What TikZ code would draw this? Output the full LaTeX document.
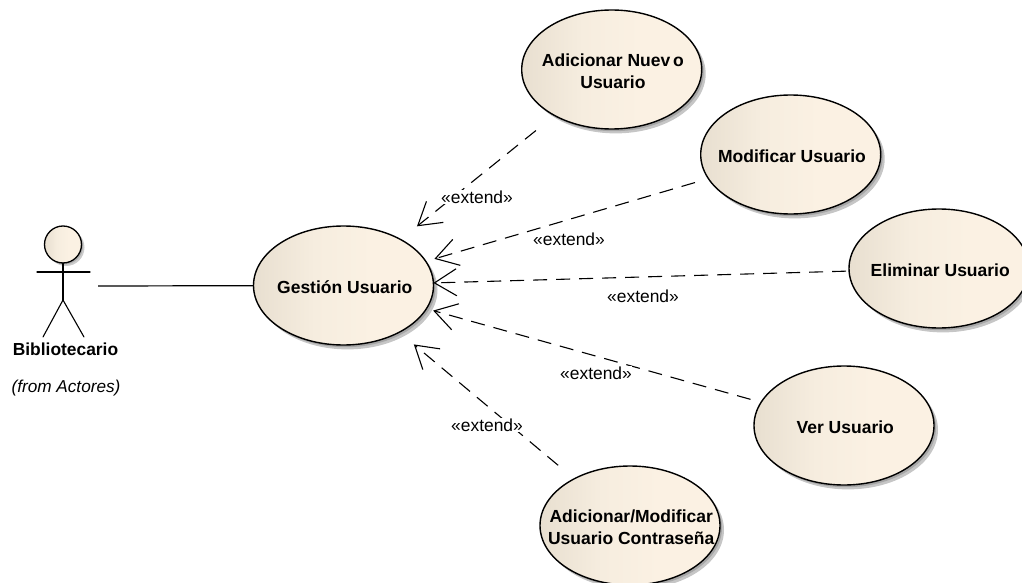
\documentclass[tikz,border=0pt]{standalone}
\usepackage{fontspec}
\setmainfont{Liberation Sans}
\usetikzlibrary{shapes.geometric,arrows.meta,shadows}
\definecolor{ucleft}{HTML}{E8DFD0}
\definecolor{ucmid}{HTML}{F6EDDF}
\definecolor{ucright}{HTML}{FBF1E3}
\pgfdeclarehorizontalshading{ucgrad}{100bp}{color(0bp)=(ucleft); color(25bp)=(ucleft); color(42bp)=(ucmid); color(58bp)=(ucright); color(100bp)=(ucright)}
\newcommand\uclabel[1]{\makebox[0pt]{\hspace{2.5pt}\smash{\raisebox{-7.5pt}{\begin{tabular}[c]{@{}c@{}}#1\end{tabular}}}}}
\tikzset{
  usecase/.style={ellipse,draw=black,line width=1.4pt,minimum width=180pt,minimum height=119pt,inner sep=0pt,outer sep=0pt,
    shade,shading=ucgrad,
    double copy shadow={shadow xshift=2pt,shadow yshift=-2.2pt,opacity=.45,fill=black!50,draw=none},
    font=\fontsize{17.5}{22}\selectfont\bfseries},
  dep/.style={line width=1.1pt,dash pattern=on 14pt off 9pt,-{Straight Barb[length=22pt,width=27pt,line width=1.1pt]}},
  stereo/.style={font=\fontsize{17.4}{20}\selectfont,fill=white,inner sep=0.5pt},
  limb/.style={line width=1.1pt,line cap=round},
  assoc/.style={line width=1.2pt},
  actorlabel/.style={font=\fontsize{17.4}{20}\selectfont\bfseries,inner sep=0pt},
  fromlabel/.style={font=\fontsize{17.2}{20}\selectfont\itshape,inner sep=0pt},
  head/.style={circle,draw=black,line width=1.3pt,minimum size=37pt,inner sep=0pt,outer sep=0pt,
    shade,shading=ucgrad,
    double copy shadow={shadow xshift=1.5pt,shadow yshift=-1.5pt,opacity=.4,fill=black!50,draw=none}}
}
\begin{document}
\begin{tikzpicture}[x=1pt,y=-1pt]
\useasboundingbox (0,0) rectangle (1022,583);
\node[usecase] (gestion) at (343.5,285.5) {\uclabel{Gestión Usuario}};
\node[usecase] (nuevo) at (611.7,69.5) {\uclabel{Adicionar Nuev\,o\\Usuario}};
\node[usecase] (modificar) at (790.7,154.5) {\uclabel{Modificar Usuario}};
\node[usecase] (eliminar) at (939,268.5) {\uclabel{Eliminar Usuario}};
\node[usecase] (ver) at (844,425.5) {\uclabel{Ver Usuario}};
\node[usecase] (clave) at (630,525.5) {\uclabel{Adicionar/Modificar\\Usuario Contraseña}};
% actor
\node[head] (cabeza) at (63,244.5) {};
\coordinate (hombroI) at (37,272);
\coordinate (hombroD) at (90,272);
\coordinate (cadera) at (63,300);
\coordinate (pieI) at (43,337);
\coordinate (pieD) at (84,337);
\coordinate (mano) at (98,286);
\draw[limb] (cabeza.south) -- (cadera);
\draw[limb] (hombroI) -- (hombroD);
\draw[limb] (pieI) -- (cadera) -- (pieD);
\node[actorlabel] (bib) at (65.5,349) {Bibliotecario};
\node[fromlabel] (from) at (66,388) {(from Actores)};
\draw[assoc] (mano) -- (gestion);
% extends
\draw[dep,shorten <=24pt,shorten >=21pt] (nuevo) -- (gestion);
\draw[dep,shorten <=14pt,shorten >=9pt] (modificar) -- (gestion);
\draw[dep,shorten <=3pt,shorten >=0pt] (eliminar) -- (gestion);
\draw[dep,shorten <=11pt,shorten >=7pt] (ver) -- (gestion);
\draw[dep,shorten <=21pt,shorten >=19pt] (clave) -- (gestion);
\node[stereo] (e1) at (477,197) {«extend»};
\node[stereo] (e2) at (569,239) {«extend»};
\node[stereo] (e3) at (643,296) {«extend»};
\node[stereo] (e4) at (596,373) {«extend»};
\node[stereo] (e5) at (487,425) {«extend»};
\end{tikzpicture}
\end{document}
